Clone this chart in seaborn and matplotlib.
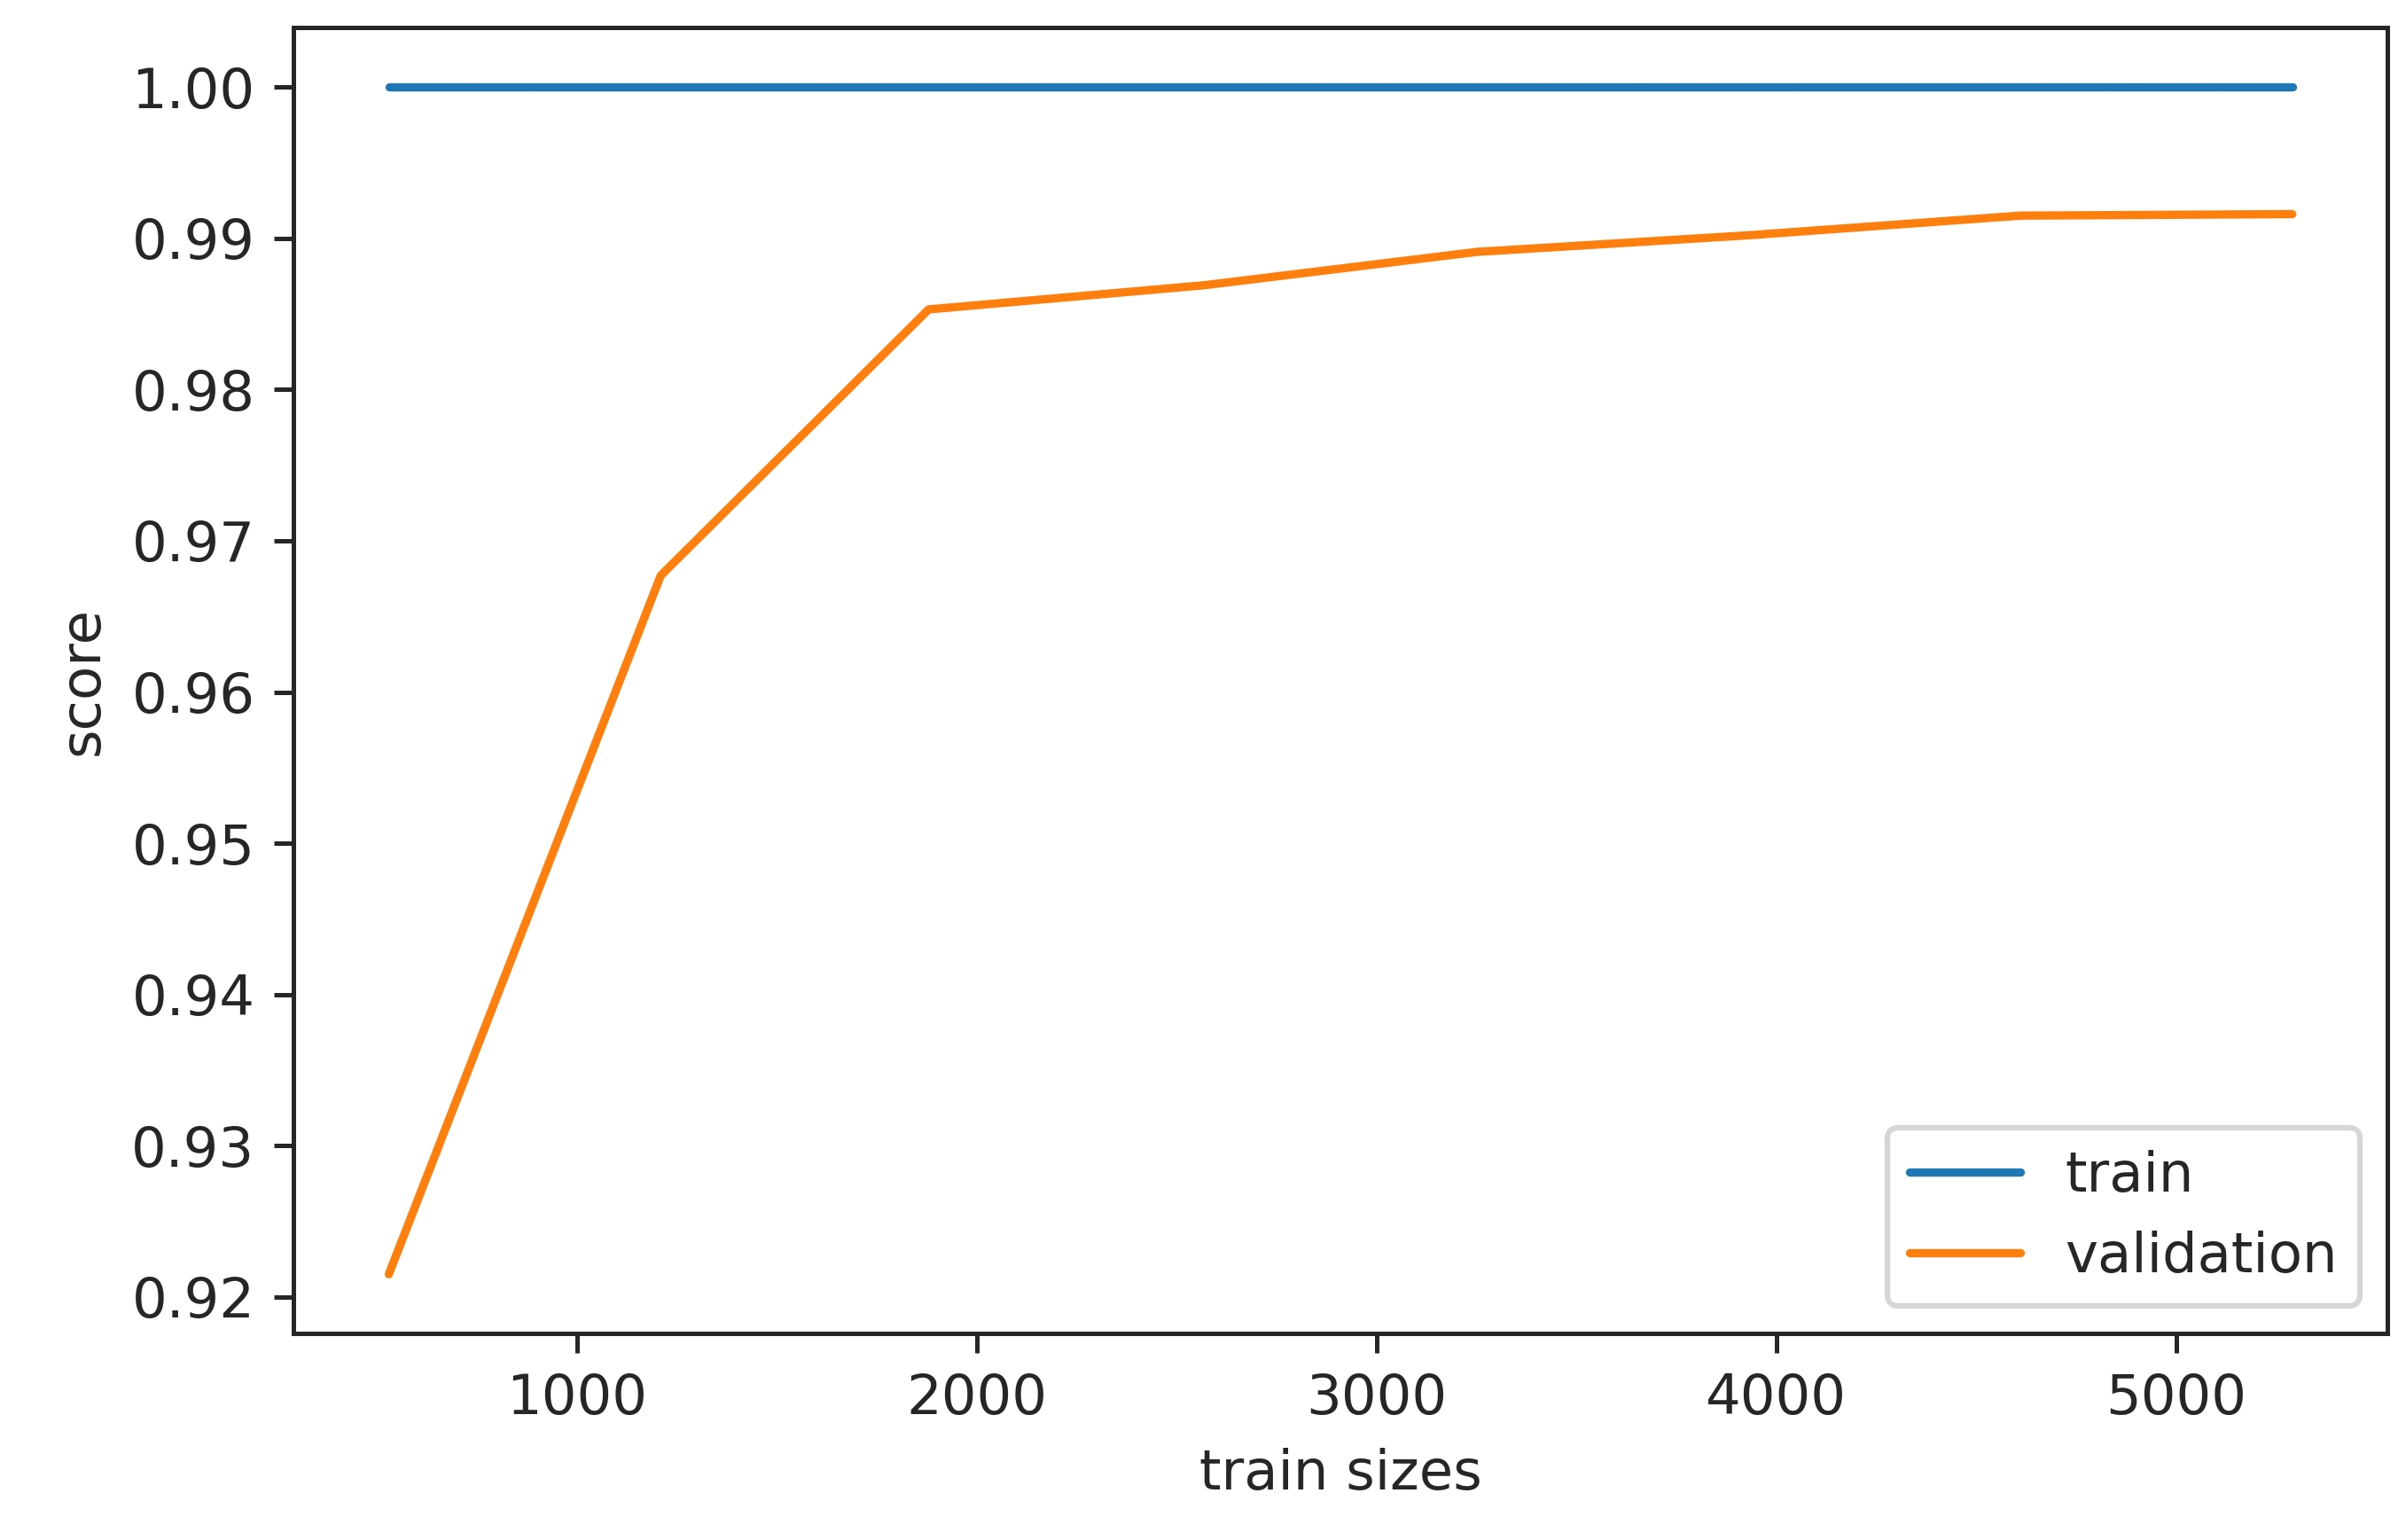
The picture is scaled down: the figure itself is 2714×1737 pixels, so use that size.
import matplotlib
matplotlib.use("Agg")
import matplotlib.pyplot as plt
import seaborn as sns
import pandas as pd

# learning curve values
train_sizes = [530, 1210, 1880, 2570, 3250, 3930, 4610, 5290]
train_score = [1.0, 1.0, 1.0, 1.0, 1.0, 1.0, 1.0, 1.0]
validation_score = [0.9215, 0.9677, 0.9853, 0.9869, 0.9891, 0.9902, 0.9915, 0.9916]

df = pd.DataFrame({
    "train sizes": train_sizes * 2,
    "score": train_score + validation_score,
    "set": ["train"] * len(train_sizes) + ["validation"] * len(train_sizes),
})

sns.set_style("ticks")
plt.rcParams['font.family'] = ['DejaVu Sans']

fig, ax = plt.subplots(figsize=(6.033, 3.86), dpi=450)
sns.lineplot(data=df, x="train sizes", y="score", hue="set",
             palette=["#1f77b4", "#ff7f0e"], linewidth=1.5, ax=ax)

ax.set_yticks([0.92, 0.93, 0.94, 0.95, 0.96, 0.97, 0.98, 0.99, 1.00])
ax.set_xticks([1000, 2000, 3000, 4000, 5000])
ax.tick_params(labelsize=10)
ax.set_xlabel("train sizes", fontsize=10)
ax.set_ylabel("score", fontsize=10)
ax.legend(loc="lower right", fontsize=10)

fig.subplots_adjust(left=0.122, right=0.992, top=0.982, bottom=0.134)
fig.savefig("out.png")
